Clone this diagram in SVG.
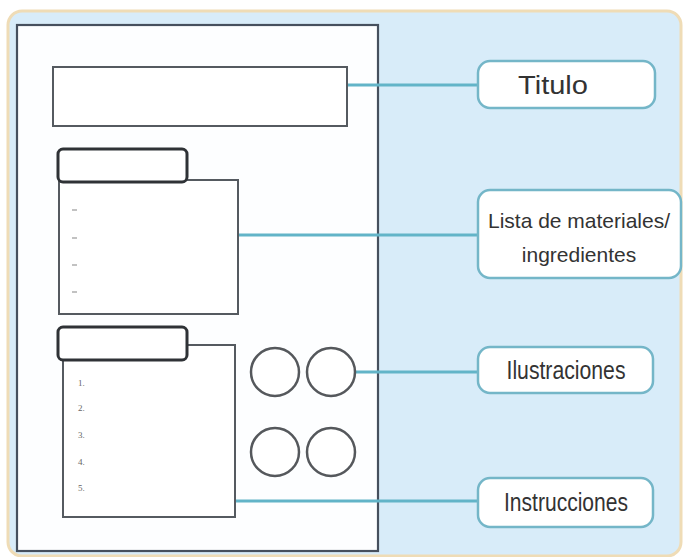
<svg xmlns="http://www.w3.org/2000/svg" width="683" height="557" viewBox="0 0 683 557">
<defs>
<style>
.conn{stroke:#62b4c8;stroke-width:3;fill:none}
.lbl{fill:#ffffff;stroke:#74b6c8;stroke-width:2.5}
.lt{font-family:"Liberation Sans Narrow","Liberation Sans",sans-serif;font-size:25px;fill:#333333;text-anchor:middle}
.box{fill:#ffffff;stroke:#555a60;stroke-width:2}
.tab{fill:#ffffff;stroke:#2f3236;stroke-width:3}
.circ{fill:#ffffff;stroke:#55585c;stroke-width:2.5}
.num{font-family:"Liberation Serif",serif;font-size:9px;fill:#666}
.dash{stroke:#999;stroke-width:1.2}
</style>
</defs>
<rect x="0" y="0" width="683" height="557" fill="#ffffff"/>
<g id="panel">
<rect x="8" y="11" width="673" height="545" rx="14" fill="#d8ecf9" stroke="#efdcb6" stroke-width="3"/>
</g>
<g id="page">
<rect x="17" y="25" width="361" height="526" fill="#fdfeff" stroke="#46505e" stroke-width="2.2"/>
</g>
<g id="connectors">
<line class="conn" x1="347" y1="85" x2="478" y2="85"/>
<line class="conn" x1="238" y1="235" x2="478" y2="235"/>
<line class="conn" x1="355" y1="372" x2="478" y2="372"/>
<line class="conn" x1="235" y1="501" x2="478" y2="501"/>
</g>
<g id="title-box">
<rect class="box" x="53" y="67" width="294" height="59"/>
</g>
<g id="list-materials">
<rect class="box" x="59" y="180" width="179" height="134"/>
<rect class="tab" x="58" y="149" width="129" height="33" rx="5"/>
<line class="dash" x1="72" y1="210" x2="77" y2="210"/>
<line class="dash" x1="72" y1="238" x2="77" y2="238"/>
<line class="dash" x1="72" y1="265" x2="77" y2="265"/>
<line class="dash" x1="72" y1="292" x2="77" y2="292"/>
</g>
<g id="list-instructions">
<rect class="box" x="63" y="345" width="172" height="172"/>
<rect class="tab" x="58" y="327" width="129" height="33" rx="5"/>
<text class="num" x="78" y="386">1.</text>
<text class="num" x="78" y="411">2.</text>
<text class="num" x="78" y="438">3.</text>
<text class="num" x="78" y="465">4.</text>
<text class="num" x="78" y="491">5.</text>
</g>
<g id="illustrations">
<circle class="circ" cx="275" cy="372" r="24"/>
<circle class="circ" cx="331" cy="372" r="24"/>
<circle class="circ" cx="275" cy="452" r="24"/>
<circle class="circ" cx="331" cy="452" r="24"/>
</g>
<g id="label-titulo">
<rect class="lbl" x="478" y="61" width="177" height="47" rx="12"/>
<text class="lt" x="553" y="94" textLength="70" lengthAdjust="spacingAndGlyphs">Titulo</text>
</g>
<g id="label-lista">
<rect class="lbl" x="478" y="190" width="203" height="88" rx="12"/>
<text class="lt" x="579" y="228" style="font-size:21px">Lista de materiales/</text>
<text class="lt" x="579" y="262" style="font-size:21px">ingredientes</text>
</g>
<g id="label-ilustraciones">
<rect class="lbl" x="478" y="347" width="175" height="46" rx="12"/>
<text class="lt" x="566" y="379" textLength="119" lengthAdjust="spacingAndGlyphs">Ilustraciones</text>
</g>
<g id="label-instrucciones">
<rect class="lbl" x="478" y="478" width="175" height="49" rx="12"/>
<text class="lt" x="566" y="511" textLength="124" lengthAdjust="spacingAndGlyphs">Instrucciones</text>
</g>
</svg>
